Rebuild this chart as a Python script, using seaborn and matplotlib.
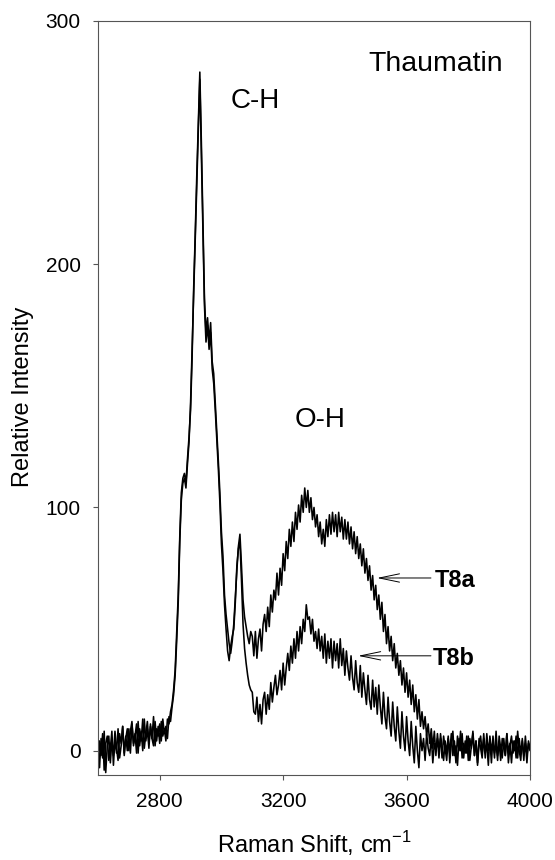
import numpy as np
import pandas as pd
import matplotlib
matplotlib.use("Agg")
import matplotlib.pyplot as plt
import seaborn as sns

# ---- data (Raman shift grid: 2600..4000 every 5 cm-1) ----
shift_start = 2600
shift_step = 5

t8a = [
    -5, 4, -2, 7, -8, 3, 6, -4, 1, 8,             # 2600-2645
    -6, 5, -1, 9, -3, 2, 10, -2, 6, 0,            # 2650-2695
    9, -1, 11, 3, 7, -1, 12, 2, 8, 0,             # 2700-2745
    13, 4, 9, 1, 11, 5, 2, 12, 4, 10,             # 2750-2795
    3, 12, 6, 9, 4, 13, 11, 16, 19, 25,           # 2800-2845
    33, 48, 64, 88, 106, 112, 114, 110, 120, 129, # 2850-2895
    140, 162, 190, 212, 236, 258, 279, 250, 218, 186,  # 2900-2945
    172, 178, 168, 176, 160, 155, 143, 131, 119, 106,  # 2950-2995
    90, 80, 64, 56, 50, 44, 40, 45, 52, 63,       # 3000-3045
    74, 84, 89, 76, 62, 55, 51, 47, 44, 49,       # 3050-3095
    47, 39, 49, 38, 46, 50, 41, 52, 56, 49,       # 3100-3145
    59, 51, 64, 57, 66, 62, 73, 64, 75, 68,       # 3150-3195
    81, 74, 86, 79, 91, 84, 94, 86, 98, 91,       # 3200-3245
    101, 94, 105, 98, 108, 100, 107, 98, 104, 95, # 3250-3295
    100, 92, 97, 88, 94, 85, 91, 84, 95, 88,      # 3300-3345
    97, 89, 98, 90, 97, 88, 98, 90, 96, 87,       # 3350-3395
    95, 87, 94, 85, 92, 83, 90, 81, 88, 79,       # 3400-3445
    85, 76, 83, 73, 79, 70, 76, 66, 72, 62,       # 3450-3495
    68, 58, 64, 54, 61, 49, 56, 44, 51, 41,       # 3500-3545
    47, 37, 44, 34, 40, 31, 37, 27, 34, 24,       # 3550-3595
    32, 22, 29, 19, 27, 16, 23, 13, 21, 10,       # 3600-3645
    16, 9, 14, 6, 11, 3, 9, 1, 8, -2,             # 3650-3695
    7, 0, 5, -3, 6, 1, -4, 5, -1, 7,              # 3700-3745
    -2, 4, -5, 6, 0, 8, -3, 3, -1, 6,             # 3750-3795
    -4, 5, 1, 7, -2, 4, -6, 3, 6, -1,             # 3800-3845
    5, -3, 7, 0, 4, -5, 6, -1, 3, -4,             # 3850-3895
    6, 1, -3, 5, -2, 7, -1, 3, -5, 4,             # 3900-3945
    0, 6, -3, 5, -1, 4, -4, 6, -2, 3,             # 3950-3995
    0,                                            # 4000
]

t8b = [
    3, -7, 5, -3, 8, -9, 2, 6, -5, 4,             # 2600-2645
    -2, 8, 1, -4, 7, 3, 10, -1, 5, 9,             # 2650-2695
    0, 8, 12, 2, 6, 11, -1, 9, 4, 13,             # 2700-2745
    1, 7, 12, 3, 10, 5, 14, 2, 9, 6,              # 2750-2795
    11, 4, 13, 7, 10, 5, 14, 12, 18, 23,          # 2800-2845
    31, 45, 61, 86, 103, 110, 112, 108, 118, 127, # 2850-2895
    143, 165, 186, 210, 232, 255, 276, 246, 214, 183,  # 2900-2945
    168, 175, 165, 172, 157, 151, 140, 128, 116, 102,  # 2950-2995
    85, 74, 60, 50, 41, 37, 43, 47, 50, 61,       # 3000-3045
    76, 83, 86, 70, 52, 42, 36, 31, 27, 25,       # 3050-3095
    24, 16, 15, 22, 12, 19, 11, 21, 24, 15,       # 3100-3145
    23, 17, 28, 20, 26, 31, 23, 27, 33, 25,       # 3150-3195
    36, 27, 34, 40, 33, 43, 36, 46, 38, 49,       # 3200-3245
    41, 51, 44, 54, 49, 60, 54, 55, 48, 54,       # 3250-3295
    45, 49, 42, 50, 41, 47, 38, 48, 36, 45,       # 3300-3345
    38, 46, 34, 45, 37, 44, 34, 46, 35, 42,       # 3350-3395
    31, 41, 34, 29, 39, 30, 25, 37, 28, 24,       # 3400-3445
    35, 22, 32, 25, 19, 31, 21, 17, 29, 18,       # 3450-3495
    26, 15, 27, 18, 11, 24, 14, 9, 22, 12,        # 3500-3545
    6, 20, 10, 4, 18, 8, 1, 16, 6, 0,             # 3550-3595
    14, 4, -2, 12, 2, -5, 10, 0, -7, 7,           # 3600-3645
    0, 5, -4, 7, 1, -2, 6, -5, 3, 0,              # 3650-3695
    5, -3, 7, 1, -4, 4, -1, 6, -5, 3,             # 3700-3745
    8, -2, 2, -6, 5, 0, 7, -3, 4, -1,             # 3750-3795
    6, -4, 2, 8, -2, 4, -5, 5, 1, -3,             # 3800-3845
    7, -1, 3, -6, 6, 0, 4, -3, 8, -2,             # 3850-3895
    3, -4, 5, 1, -2, 7, -5, 2, 6, -1,             # 3900-3945
    4, -3, 8, 0, -4, 5, -2, 3, -5, 4,             # 3950-3995
    1,                                            # 4000
]

series_names = ["T8a", "T8b"]
x_ticks = [2800, 3200, 3600, 4000]
y_ticks = [0, 100, 200, 300]

# ---- build long-form table ----
shift_a = shift_start + shift_step * np.arange(len(t8a))
shift_b = shift_start + shift_step * np.arange(len(t8b))
df = pd.DataFrame({
    "shift": np.concatenate([shift_a, shift_b]),
    "intensity": list(t8a) + list(t8b),
    "sample": [series_names[0]] * len(t8a) + [series_names[1]] * len(t8b),
})

sns.set_style("white")
plt.rcParams["font.family"] = ["Liberation Sans", "DejaVu Sans"]
plt.rcParams["text.color"] = "black"
plt.rcParams["axes.labelcolor"] = "black"
plt.rcParams["xtick.color"] = "black"
plt.rcParams["ytick.color"] = "black"

fig = plt.figure(figsize=(5.55, 8.6), dpi=100)
ax = fig.add_axes([98 / 555, 85 / 860, 432 / 555, 754 / 860])

sns.lineplot(data=df, x="shift", y="intensity", hue="sample",
             palette={"T8a": "black", "T8b": "black"},
             estimator=None, sort=True, linewidth=1.15, legend=False, ax=ax)

ax.set_xlim(2600, 4000)
ax.set_ylim(-10, 300)
ax.set_xticks(x_ticks)
ax.set_yticks(y_ticks)
ax.tick_params(axis="both", direction="out", length=3.5, width=0.8,
               color="#555555", labelsize=15, pad=9, labelcolor="black")
ax.tick_params(axis="x", bottom=True)
ax.tick_params(axis="y", left=True)

for side in ["left", "right", "top", "bottom"]:
    ax.spines[side].set_visible(True)
    ax.spines[side].set_color("#555555")
    ax.spines[side].set_linewidth(0.8)

ax.set_xlabel(r"Raman Shift, cm$^{\mathregular{-1}}$", fontsize=17, color="black")
ax.set_ylabel("Relative Intensity", fontsize=17, color="black")
ax.xaxis.set_label_coords(0.5, -0.072)
ax.yaxis.set_label_coords(-0.148, 0.502)

# ---- annotations ----
ax.text(3694, 279.4, "Thaumatin", fontsize=20.5, ha="center", va="baseline", color="black")
ax.text(3108, 264.3, "C-H", fontsize=20, ha="center", va="baseline", color="black")
ax.text(3319, 133, "O-H", fontsize=20, ha="center", va="baseline", color="black")

ax.text(3690, 67.1, "T8a", fontsize=17, fontweight="bold", ha="left", va="baseline", color="black")
ax.text(3684, 35.3, "T8b", fontsize=17, fontweight="bold", ha="left", va="baseline", color="black")

arrow_kw = dict(arrowstyle="->,head_length=1.45,head_width=0.3",
                lw=0.7, color="black", mutation_scale=10,
                shrinkA=0, shrinkB=0)
ax.annotate("", xy=(3504, 71), xytext=(3679, 71), arrowprops=arrow_kw)
ax.annotate("", xy=(3443, 39), xytext=(3679, 39), arrowprops=arrow_kw)

fig.savefig("out.png", dpi=100)
